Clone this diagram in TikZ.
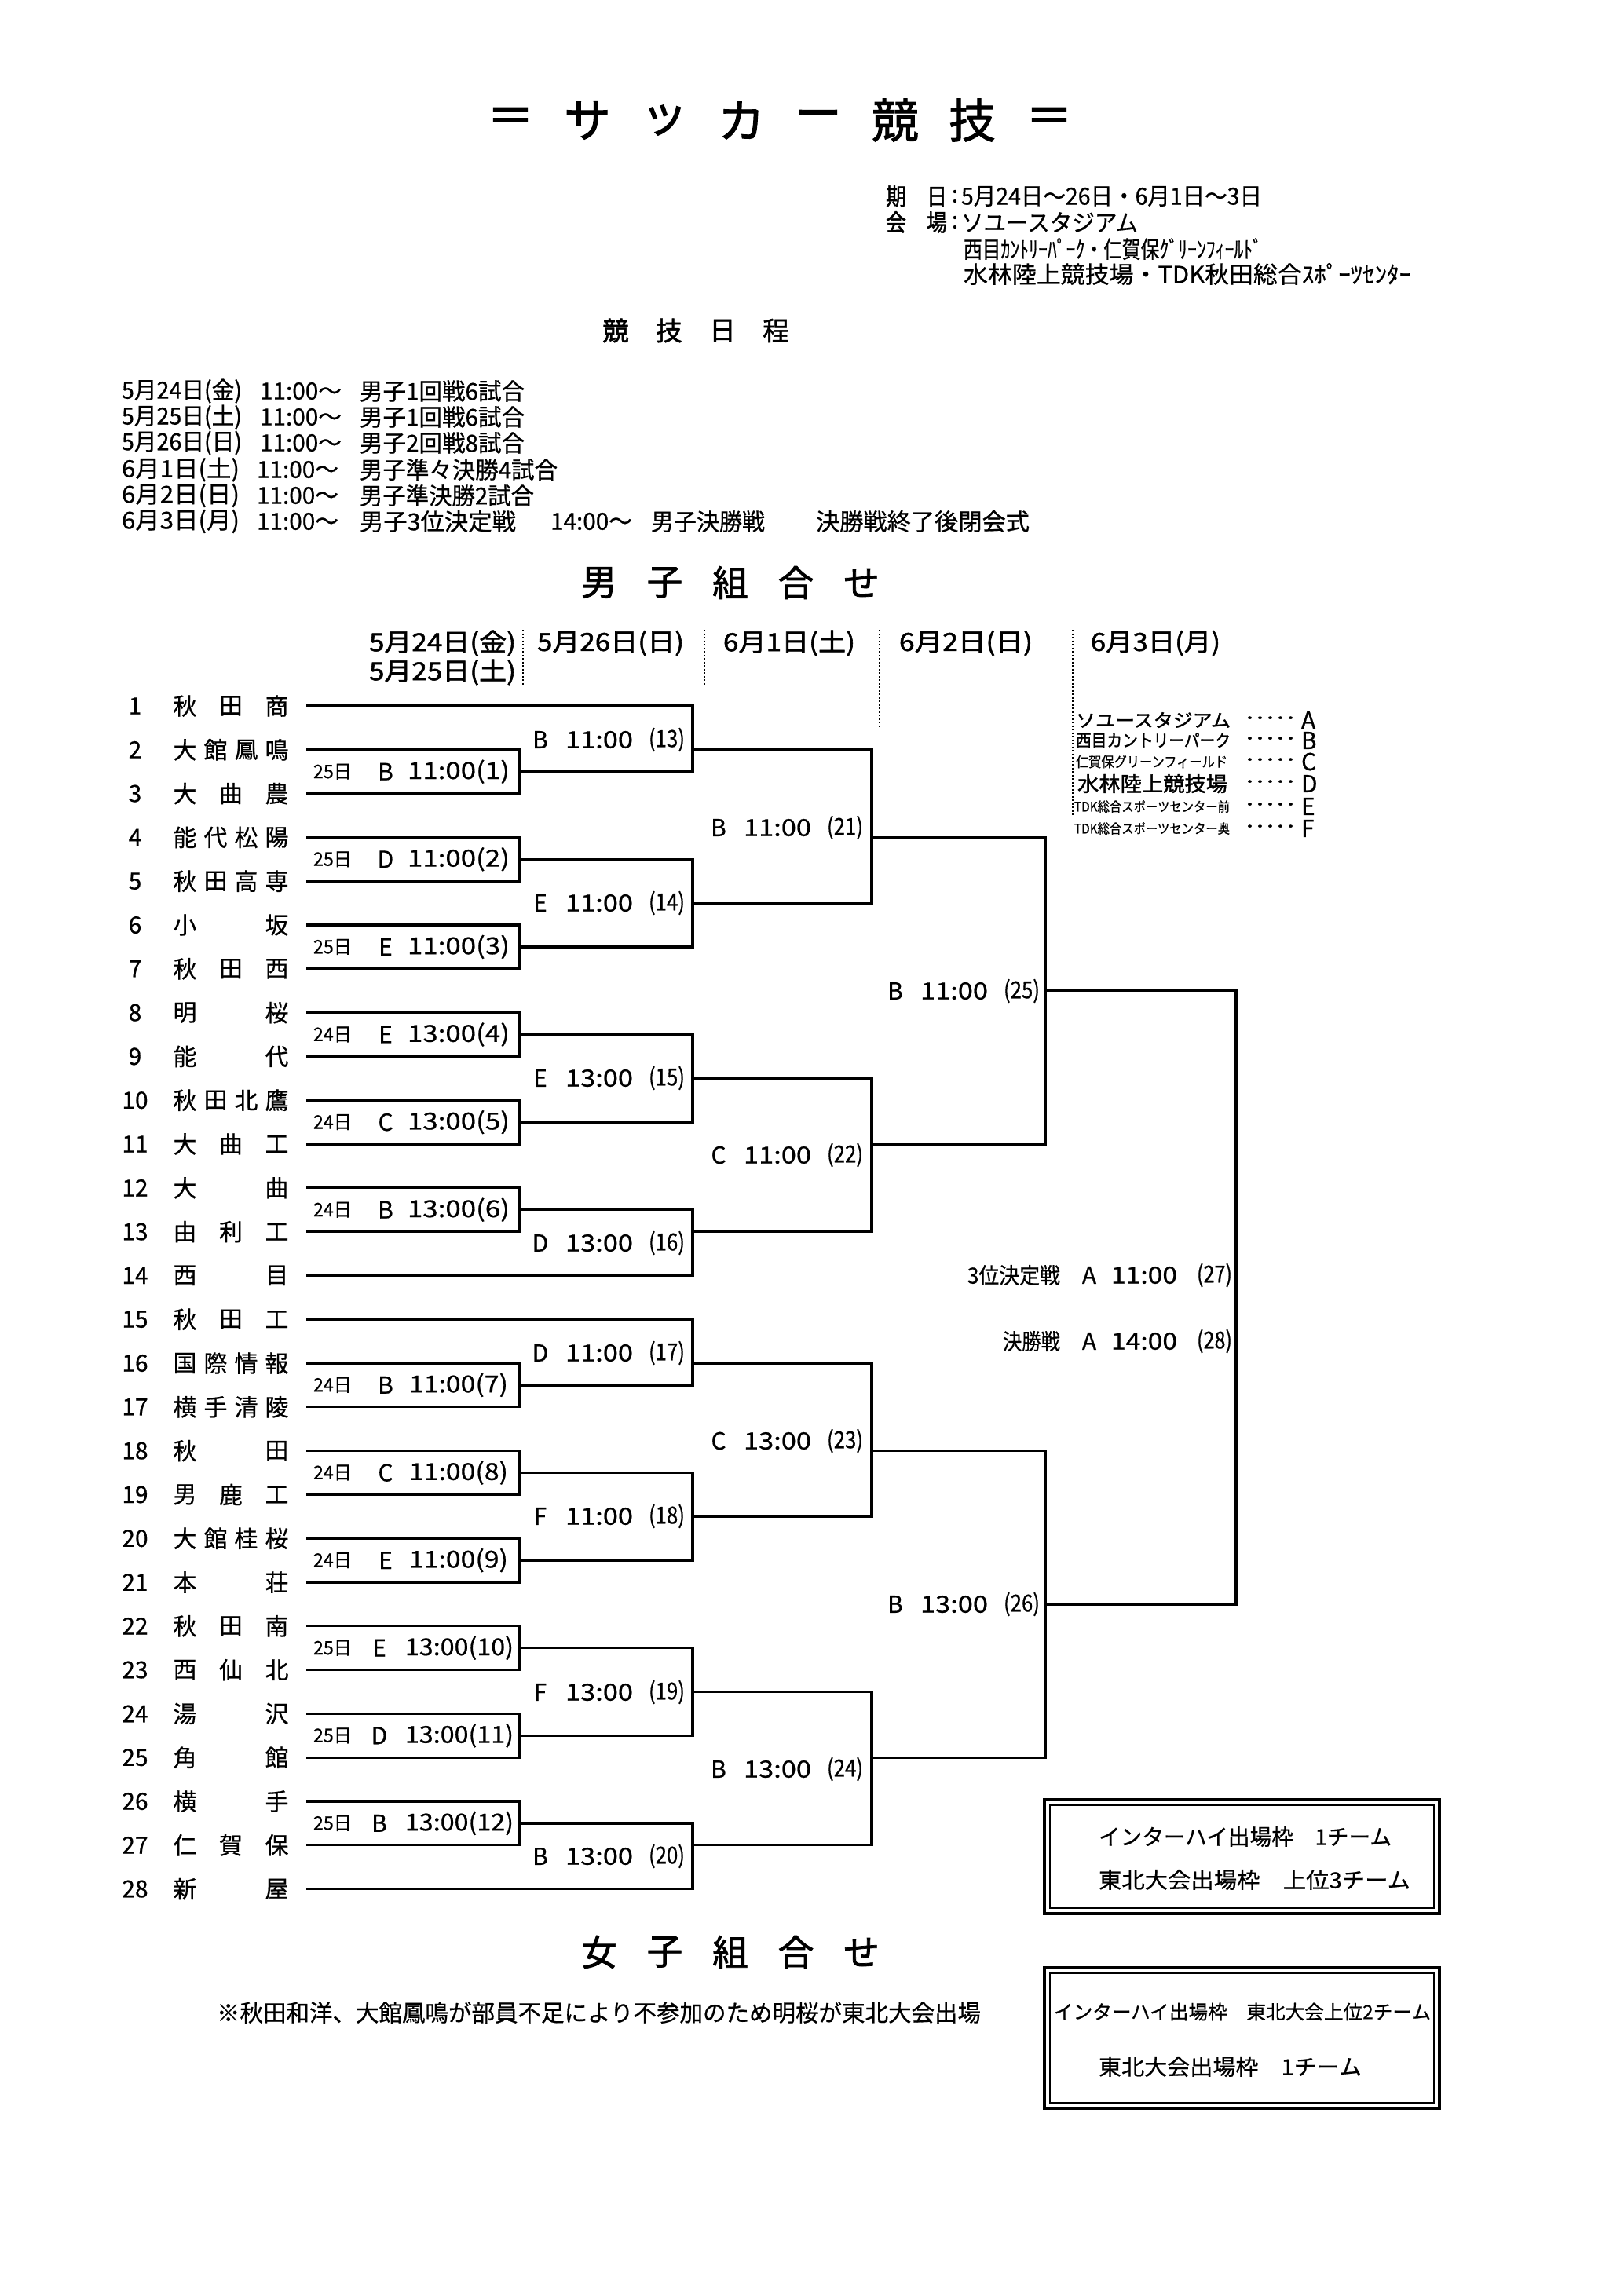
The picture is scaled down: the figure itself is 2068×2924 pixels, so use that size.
\documentclass[tikz,border=0pt]{standalone}
\usepackage{fontspec}
\usepackage{graphicx}
\setmainfont{Noto Sans CJK JP}[FakeBold=0.6]
\newfontfamily\jpb[FakeBold=1.6]{Noto Sans CJK JP}
\newdimen\pxu \pxu=0.1mm
\newcommand{\fitw}[2]{\resizebox{#1\pxu}{\height}{#2}}
\newcommand{\fs}[1]{\fontsize{#1}{#1}\selectfont}
\newcommand{\tyof}[1]{\pgfmathsetmacro\ty{899+55.8*(#1-1)}}
\newcommand\teamF[5]{\tyof{#1}%
 \node[tnum] (num#1) at (172,\ty) {#1};
 \node[tch] (na#1) at (235.5,\ty) {#2};
 \node[tch] (nb#1) at (274.5,\ty) {#3};
 \node[tch] (nc#1) at (313.5,\ty) {#4};
 \node[tch] (nd#1) at (352.5,\ty) {#5};
 \coordinate (t#1) at (392,\ty);}
\newcommand\teamT[4]{\tyof{#1}%
 \node[tnum] (num#1) at (172,\ty) {#1};
 \node[tch] (na#1) at (235.5,\ty) {#2};
 \node[tch] (nb#1) at (294,\ty) {#3};
 \node[tch] (nd#1) at (352.5,\ty) {#4};
 \coordinate (t#1) at (392,\ty);}
\newcommand\teamW[3]{\tyof{#1}%
 \node[tnum] (num#1) at (172,\ty) {#1};
 \node[tch] (na#1) at (235.5,\ty) {#2};
 \node[tch] (nd#1) at (352.5,\ty) {#3};
 \coordinate (t#1) at (392,\ty);}
% first-round label: id, y, day, letter, time, letter x, time x, time width
\newcommand\rone[8]{%
 \node[txt,font=\fs{6.8pt}] (d#1) at (399,#2) {\fitw{49}{#3日}};
 \node[ctr,font=\fs{8.5pt}] (l#1) at (#6,#2) {#4};
 \node[txt,font=\fs{8.5pt}] (h#1) at (#7,#2) {\fitw{#8}{#5(#1)}};}
% later-round label: id, y, letter, time, letter centre x
\newcommand\rlab[5]{%
 \node[ctr,font=\fs{8.5pt}] (l#1) at (#5,#2) {#3};
 \node[txt,font=\fs{8.5pt}] (h#1) at ({#5+32},#2) {\fitw{86}{#4}};
 \node[txt,font=\fs{8.5pt}] (p#1) at ({#5+138},#2) {\fitw{46}{(#1)}};}

\begin{document}
\begin{tikzpicture}[x=0.1mm,y=-0.1mm,
  txt/.style={inner sep=0pt,outer sep=0pt,anchor=west},
  ctr/.style={inner sep=0pt,outer sep=0pt},
  tnum/.style={ctr,font=\fs{8.5pt}},
  tch/.style={ctr,font=\fs{8.5pt}},
  brk/.style={line width=0.32mm,line cap=rect},
  dotln/.style={line width=0.25mm,dash pattern=on 0.2mm off 0.25mm},
  boxo/.style={line width=0.4mm},
  boxi/.style={line width=0.2mm}]
\fill[white] (0,0) rectangle (2068,2924);
\useasboundingbox (0,0) rectangle (2068,2924);

% ---------- title ----------
\foreach \c [count=\k from 0] in {＝,サ,ッ,カ,ー,競,技,＝}
  \node[ctr,font=\jpb\fs{17pt}] (ti\k) at ({650+98*\k},153) {\c};

% ---------- info ----------
\node[txt,font=\jpb\fs{8.5pt}] (i1a) at (1128,250) {\fitw{78}{期　日}};
\node[ctr,font=\fs{8.5pt}] (i1b) at (1216,250) {:};
\node[txt,font=\fs{8.5pt}] (i1c) at (1224,250) {\fitw{383}{5月24日～26日・6月1日～3日}};
\node[txt,font=\jpb\fs{8.5pt}] (i2a) at (1128,283) {\fitw{78}{会　場}};
\node[ctr,font=\fs{8.5pt}] (i2b) at (1216,283) {:};
\node[txt,font=\fs{8.5pt}] (i2c) at (1224,283) {\fitw{225}{ソユースタジアム}};
\node[txt,font=\fs{8.5pt}] (i3) at (1227,317) {\fitw{380}{西目ｶﾝﾄﾘｰﾊﾟｰｸ・仁賀保ｸﾞﾘｰﾝﾌｨｰﾙﾄﾞ}};
\node[txt,font=\fs{8.5pt}] (i4) at (1227,349) {\fitw{570}{水林陸上競技場・TDK秋田総合ｽﾎﾟｰﾂｾﾝﾀｰ}};

% ---------- schedule ----------
\foreach \c [count=\k from 0] in {競,技,日,程}
  \node[ctr,font=\jpb\fs{9.5pt}] (sh\k) at ({784+68*\k},421) {\c};
\node[txt,font=\fs{8.5pt}] (s1a) at (155,498) {\fitw{153}{5月24日(金)}};
\node[txt,font=\fs{8.5pt}] (s1b) at (331,498) {\fitw{104}{11:00～}};
\node[txt,font=\fs{8.5pt}] (s1c) at (458,498) {\fitw{210}{男子1回戦6試合}};
\node[txt,font=\fs{8.5pt}] (s2a) at (155,531) {\fitw{153}{5月25日(土)}};
\node[txt,font=\fs{8.5pt}] (s2b) at (331,531) {\fitw{104}{11:00～}};
\node[txt,font=\fs{8.5pt}] (s2c) at (458,531) {\fitw{210}{男子1回戦6試合}};
\node[txt,font=\fs{8.5pt}] (s3a) at (155,564) {\fitw{153}{5月26日(日)}};
\node[txt,font=\fs{8.5pt}] (s3b) at (331,564) {\fitw{104}{11:00～}};
\node[txt,font=\fs{8.5pt}] (s3c) at (458,564) {\fitw{210}{男子2回戦8試合}};
\node[txt,font=\fs{8.5pt}] (s4a) at (155,598) {\fitw{150}{6月1日(土)}};
\node[txt,font=\fs{8.5pt}] (s4b) at (327,598) {\fitw{104}{11:00～}};
\node[txt,font=\fs{8.5pt}] (s4c) at (458,598) {\fitw{252}{男子準々決勝4試合}};
\node[txt,font=\fs{8.5pt}] (s5a) at (155,631) {\fitw{150}{6月2日(日)}};
\node[txt,font=\fs{8.5pt}] (s5b) at (327,631) {\fitw{104}{11:00～}};
\node[txt,font=\fs{8.5pt}] (s5c) at (458,631) {\fitw{222}{男子準決勝2試合}};
\node[txt,font=\fs{8.5pt}] (s6a) at (155,664) {\fitw{150}{6月3日(月)}};
\node[txt,font=\fs{8.5pt}] (s6b) at (327,664) {\fitw{104}{11:00～}};
\node[txt,font=\fs{8.5pt}] (s6c) at (458,664) {\fitw{199}{男子3位決定戦}};
\node[txt,font=\fs{8.5pt}] (s6d) at (701,664) {\fitw{104}{14:00～}};
\node[txt,font=\fs{8.5pt}] (s6e) at (829,664) {\fitw{145}{男子決勝戦}};
\node[txt,font=\fs{8.5pt}] (s6f) at (1039,664) {\fitw{272}{決勝戦終了後閉会式}};

% ---------- section titles ----------
\foreach \c [count=\k from 0] in {男,子,組,合,せ}
  \node[ctr,font=\jpb\fs{13pt}] (mt\k) at ({763+83.5*\k},742) {\c};
\foreach \c [count=\k from 0] in {女,子,組,合,せ}
  \node[ctr,font=\jpb\fs{13pt}] (wt\k) at ({763+83.5*\k},2486) {\c};

% ---------- column headers ----------
\node[txt,font=\jpb\fs{9pt}] (hd1) at (470,819) {\fitw{187}{5月24日(金)}};
\node[txt,font=\jpb\fs{9pt}] (hd1b) at (470,856) {\fitw{187}{5月25日(土)}};
\node[txt,font=\jpb\fs{9pt}] (hd2) at (684,819) {\fitw{187}{5月26日(日)}};
\node[txt,font=\jpb\fs{9pt}] (hd3) at (921,819) {\fitw{168}{6月1日(土)}};
\node[txt,font=\jpb\fs{9pt}] (hd4) at (1145,819) {\fitw{170}{6月2日(日)}};
\node[txt,font=\jpb\fs{9pt}] (hd5) at (1389,819) {\fitw{165}{6月3日(月)}};
\coordinate (v1a) at (666,802); \coordinate (v1b) at (666,873);
\coordinate (v2a) at (897,802); \coordinate (v2b) at (897,873);
\coordinate (v3a) at (1120,802); \coordinate (v3b) at (1120,927);
\coordinate (v4a) at (1366,802); \coordinate (v4b) at (1366,1039);
\draw[dotln] (v1a) -- (v1b);
\draw[dotln] (v2a) -- (v2b);
\draw[dotln] (v3a) -- (v3b);
\draw[dotln] (v4a) -- (v4b);

% ---------- teams ----------
\teamT{1}{秋}{田}{商}
\teamF{2}{大}{館}{鳳}{鳴}
\teamT{3}{大}{曲}{農}
\teamF{4}{能}{代}{松}{陽}
\teamF{5}{秋}{田}{高}{専}
\teamW{6}{小}{坂}
\teamT{7}{秋}{田}{西}
\teamW{8}{明}{桜}
\teamW{9}{能}{代}
\teamF{10}{秋}{田}{北}{鷹}
\teamT{11}{大}{曲}{工}
\teamW{12}{大}{曲}
\teamT{13}{由}{利}{工}
\teamW{14}{西}{目}
\teamT{15}{秋}{田}{工}
\teamF{16}{国}{際}{情}{報}
\teamF{17}{横}{手}{清}{陵}
\teamW{18}{秋}{田}
\teamT{19}{男}{鹿}{工}
\teamF{20}{大}{館}{桂}{桜}
\teamW{21}{本}{荘}
\teamT{22}{秋}{田}{南}
\teamT{23}{西}{仙}{北}
\teamW{24}{湯}{沢}
\teamW{25}{角}{館}
\teamW{26}{横}{手}
\teamT{27}{仁}{賀}{保}
\teamW{28}{新}{屋}

% ---------- match points ----------
\coordinate (m1) at (662,982.7);
\coordinate (m2) at (662,1094.3);
\coordinate (m3) at (662,1205.9);
\coordinate (m4) at (662,1317.5);
\coordinate (m5) at (662,1429.1);
\coordinate (m6) at (662,1540.7);
\coordinate (m7) at (662,1763.9);
\coordinate (m8) at (662,1875.5);
\coordinate (m9) at (662,1987.1);
\coordinate (m10) at (662,2098.7);
\coordinate (m11) at (662,2210.3);
\coordinate (m12) at (662,2321.9);
\coordinate (m13) at (882,954.8);
\coordinate (m14) at (882,1150.1);
\coordinate (m15) at (882,1373.3);
\coordinate (m16) at (882,1568.6);
\coordinate (m17) at (882,1736);
\coordinate (m18) at (882,1931.3);
\coordinate (m19) at (882,2154.5);
\coordinate (m20) at (882,2349.8);
\coordinate (m21) at (1110,1066.4);
\coordinate (m22) at (1110,1457);
\coordinate (m23) at (1110,1847.6);
\coordinate (m24) at (1110,2238.2);
\coordinate (m25) at (1331,1261.7);
\coordinate (m26) at (1331,2042.9);
\coordinate (fin) at (1574,1652);

% ---------- bracket ----------
\draw[brk] (t2) -| (m1) |- (t3);
\draw[brk] (t4) -| (m2) |- (t5);
\draw[brk] (t6) -| (m3) |- (t7);
\draw[brk] (t8) -| (m4) |- (t9);
\draw[brk] (t10) -| (m5) |- (t11);
\draw[brk] (t12) -| (m6) |- (t13);
\draw[brk] (t16) -| (m7) |- (t17);
\draw[brk] (t18) -| (m8) |- (t19);
\draw[brk] (t20) -| (m9) |- (t21);
\draw[brk] (t22) -| (m10) |- (t23);
\draw[brk] (t24) -| (m11) |- (t25);
\draw[brk] (t26) -| (m12) |- (t27);
\draw[brk] (t1) -| (m13);  \draw[brk] (m1) -| (m13);
\draw[brk] (m2) -| (m14);  \draw[brk] (m3) -| (m14);
\draw[brk] (m4) -| (m15);  \draw[brk] (m5) -| (m15);
\draw[brk] (m6) -| (m16);  \draw[brk] (t14) -| (m16);
\draw[brk] (t15) -| (m17); \draw[brk] (m7) -| (m17);
\draw[brk] (m8) -| (m18);  \draw[brk] (m9) -| (m18);
\draw[brk] (m10) -| (m19); \draw[brk] (m11) -| (m19);
\draw[brk] (m12) -| (m20); \draw[brk] (t28) -| (m20);
\draw[brk] (m13) -| (m21); \draw[brk] (m14) -| (m21);
\draw[brk] (m15) -| (m22); \draw[brk] (m16) -| (m22);
\draw[brk] (m17) -| (m23); \draw[brk] (m18) -| (m23);
\draw[brk] (m19) -| (m24); \draw[brk] (m20) -| (m24);
\draw[brk] (m21) -| (m25); \draw[brk] (m22) -| (m25);
\draw[brk] (m23) -| (m26); \draw[brk] (m24) -| (m26);
\draw[brk] (m25) -| (fin); \draw[brk] (m26) -| (fin);

% ---------- first-round labels ----------
\rone{1}{982.7}{25}{B}{11:00}{491}{519}{130}
\rone{2}{1094.3}{25}{D}{11:00}{491}{519}{130}
\rone{3}{1205.9}{25}{E}{11:00}{491}{519}{130}
\rone{4}{1317.5}{24}{E}{13:00}{491}{519}{130}
\rone{5}{1429.1}{24}{C}{13:00}{491}{519}{130}
\rone{6}{1540.7}{24}{B}{13:00}{491}{519}{130}
\rone{7}{1763.9}{24}{B}{11:00}{491}{521}{126}
\rone{8}{1875.5}{24}{C}{11:00}{491}{521}{126}
\rone{9}{1987.1}{24}{E}{11:00}{491}{521}{126}
\rone{10}{2098.7}{25}{E}{13:00}{483}{516}{138}
\rone{11}{2210.3}{25}{D}{13:00}{483}{516}{138}
\rone{12}{2321.9}{25}{B}{13:00}{483}{516}{138}

% ---------- later-round labels ----------
\rlab{13}{942}{B}{11:00}{688}
\rlab{14}{1150}{E}{11:00}{688}
\rlab{15}{1373}{E}{13:00}{688}
\rlab{16}{1583}{D}{13:00}{688}
\rlab{17}{1723}{D}{11:00}{688}
\rlab{18}{1931}{F}{11:00}{688}
\rlab{19}{2155}{F}{13:00}{688}
\rlab{20}{2364}{B}{13:00}{688}
\rlab{21}{1054}{B}{11:00}{915}
\rlab{22}{1471}{C}{11:00}{915}
\rlab{23}{1835}{C}{13:00}{915}
\rlab{24}{2253}{B}{13:00}{915}
\rlab{25}{1262}{B}{11:00}{1140}
\rlab{26}{2043}{B}{13:00}{1140}

% ---------- final labels ----------
\node[txt,font=\fs{8pt}] (f1a) at (1232,1624) {\fitw{118}{3位決定戦}};
\node[ctr,font=\fs{8.5pt}] (f1b) at (1387,1624) {A};
\node[txt,font=\fs{8.5pt}] (f1c) at (1415,1624) {\fitw{84}{11:00}};
\node[txt,font=\fs{8.5pt}] (f1d) at (1524,1624) {\fitw{45}{(27)}};
\node[txt,font=\fs{8pt}] (f2a) at (1277,1708) {\fitw{73}{決勝戦}};
\node[ctr,font=\fs{8.5pt}] (f2b) at (1387,1708) {A};
\node[txt,font=\fs{8.5pt}] (f2c) at (1415,1708) {\fitw{84}{14:00}};
\node[txt,font=\fs{8.5pt}] (f2d) at (1524,1708) {\fitw{45}{(28)}};

% ---------- venue legend ----------
\node[txt,font=\jpb\fs{6.6pt}] (vA) at (1370,917) {\fitw{197}{ソユースタジアム}};
\node[txt,font=\jpb\fs{6.2pt}] (vB) at (1370,943) {\fitw{197}{西目カントリーパーク}};
\node[txt,font=\fs{5.2pt}] (vC) at (1370,970) {\fitw{193}{仁賀保グリーンフィールド}};
\node[txt,font=\jpb\fs{7.4pt}] (vD) at (1372,998) {\fitw{191}{水林陸上競技場}};
\node[txt,font=\fs{4.8pt}] (vE) at (1368,1027) {\fitw{198}{TDK総合スポーツセンター前}};
\node[txt,font=\fs{4.8pt}] (vF) at (1368,1055) {\fitw{198}{TDK総合スポーツセンター奥}};
\foreach \L/\yy in {A/917,B/943,C/970,D/998,E/1027,F/1055}{
  \node[txt,font=\jpb\fs{5.5pt}] (dots\L) at (1585,\yy) {\fitw{65}{･････}};
  \node[txt,font=\fs{8.5pt}] (let\L) at (1657,\yy) {\L};
}

% ---------- boxes ----------
\coordinate (b1oa) at (1330,2292); \coordinate (b1ob) at (1833,2437);
\coordinate (b1ia) at (1337,2299); \coordinate (b1ib) at (1826,2430);
\coordinate (b2oa) at (1330,2506); \coordinate (b2ob) at (1833,2685);
\coordinate (b2ia) at (1337,2513); \coordinate (b2ib) at (1826,2678);
\draw[boxo] (b1oa) rectangle (b1ob);
\draw[boxi] (b1ia) rectangle (b1ib);
\draw[boxo] (b2oa) rectangle (b2ob);
\draw[boxi] (b2ia) rectangle (b2ib);
\node[txt,font=\fs{8pt}] (bx1) at (1399,2339) {\fitw{373}{インターハイ出場枠　1チーム}};
\node[txt,font=\fs{8pt}] (bx2) at (1399,2394) {\fitw{397}{東北大会出場枠　上位3チーム}};
\node[txt,font=\fs{7pt}] (bx3) at (1342,2562) {\fitw{480}{インターハイ出場枠　東北大会上位2チーム}};
\node[txt,font=\fs{8pt}] (bx4) at (1399,2632) {\fitw{335}{東北大会出場枠　1チーム}};

% ---------- note ----------
\node[txt,font=\fs{8.5pt}] (note) at (276,2563) {\fitw{973}{※秋田和洋、大館鳳鳴が部員不足により不参加のため明桜が東北大会出場}};
\end{tikzpicture}
\end{document}
